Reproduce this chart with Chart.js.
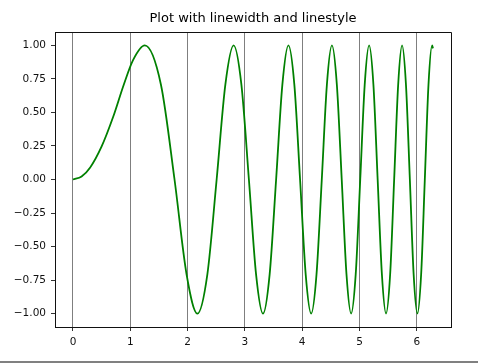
<!DOCTYPE html>
<html>
<head>
<meta charset="utf-8">
<script src="https://cdn.jsdelivr.net/npm/chart.js@4"></script>
<style>
  html, body { margin: 0; padding: 0; background: #fff; }
  #wrap { width: 478px; height: 363px; position: relative; }
</style>
</head>
<body>
<div id="wrap"><canvas id="lineChart" width="478" height="363"></canvas></div>
<script>
// Points (peaks, zero crossings and in between)
const xValues = [0, 0.15, 0.3, 0.5, 0.7, 0.886, 1.05, 1.253,
  1.535, 1.772, 1.982, 2.171, 2.345, 2.507, 2.659, 2.803,
  2.939, 3.070, 3.195, 3.316, 3.432, 3.545, 3.654, 3.760,
  3.863, 3.963, 4.061, 4.157, 4.250, 4.342, 4.431, 4.519,
  4.605, 4.690, 4.773, 4.854, 4.934, 5.013, 5.091, 5.168,
  5.243, 5.317, 5.391, 5.463, 5.535, 5.605, 5.675, 5.743,
  5.811, 5.879, 5.945, 6.011, 6.076, 6.140, 6.204, 6.267,
  6.283];
const yValues = [0, 0.022, 0.09, 0.247, 0.466, 0.707, 0.892, 1,
  0.707, 0, -0.707, -1, -0.707, 0, 0.707, 1,
  0.707, 0, -0.707, -1, -0.707, 0, 0.707, 1,
  0.707, 0, -0.707, -1, -0.707, 0, 0.707, 1,
  0.707, 0, -0.707, -1, -0.707, 0, 0.707, 1,
  0.707, 0, -0.707, -1, -0.707, 0, 0.707, 1,
  0.707, 0, -0.707, -1, -0.707, 0, 0.707, 1,
  0.978];

// Tick labels
const xTicks = [0, 1, 2, 3, 4, 5, 6];
const yTicks = [-1, -0.75, -0.5, -0.25, 0, 0.25, 0.5, 0.75, 1];

const points = xValues.map((x, i) => ({ x: x, y: yValues[i] }));

// top/right spines and the line along the bottom of the image
const framePlugin = {
  id: "frame",
  afterDraw(chart) {
    const { ctx, chartArea } = chart;
    ctx.save();
    ctx.strokeStyle = "#111";
    ctx.lineWidth = 1;
    ctx.beginPath();
    ctx.moveTo(Math.round(chartArea.left) + 0.5, Math.round(chartArea.top) + 0.5);
    ctx.lineTo(Math.round(chartArea.right) + 0.5, Math.round(chartArea.top) + 0.5);
    ctx.lineTo(Math.round(chartArea.right) + 0.5, Math.round(chartArea.bottom) + 0.5);
    ctx.stroke();
    ctx.fillStyle = "#808080";
    ctx.fillRect(0, chart.height - 2, chart.width, 2);
    ctx.restore();
  },
};

const ctx = document.getElementById("lineChart").getContext("2d");
const lineChart = new Chart(ctx, {
  type: "line",
  data: {
    datasets: [
      {
        data: points,
        borderColor: "#008000",
        borderWidth: 1.8,
        pointRadius: 0,
        fill: false,
        cubicInterpolationMode: "monotone",
      },
    ],
  },
  options: {
    responsive: false,
    animation: false,
    layout: { padding: { left: 0, right: 27, top: 0, bottom: 0 } },
    plugins: {
      legend: { display: false },
      tooltip: { enabled: false },
      title: {
        display: true,
        fullSize: false, // center over the axes, not the whole canvas
        text: "Plot with linewidth and linestyle",
        color: "#000",
        font: { family: "DejaVu Sans", size: 13, weight: "normal", lineHeight: 1.2 },
        padding: { top: 11, bottom: 5.4 },
      },
    },
    scales: {
      x: {
        type: "linear",
        min: -0.314,
        max: 6.597,
        afterFit: (scale) => { scale.height = 36; },
        afterBuildTicks: (scale) => { scale.ticks = xTicks.map((v) => ({ value: v })); },
        grid: {
          color: "rgba(0,0,0,0.5)",
          tickColor: "#333",
          tickLength: 4,
          lineWidth: 1,
        },
        border: { display: true, color: "#111", width: 1 },
        ticks: {
          color: "#111",
          padding: 5,
          maxRotation: 0,
          font: { family: "DejaVu Sans", size: 10.5 },
          callback: (v) => v.toString(),
        },
      },
      y: {
        min: -1.1,
        max: 1.1,
        afterFit: (scale) => { scale.width = 55; },
        afterBuildTicks: (scale) => { scale.ticks = yTicks.map((v) => ({ value: v })); },
        grid: {
          drawOnChartArea: false,
          tickColor: "#333",
          tickLength: 4,
        },
        border: { display: true, color: "#111", width: 1 },
        ticks: {
          color: "#111",
          padding: 5,
          font: { family: "DejaVu Sans", size: 10.5 },
          callback: (v) => (v < 0 ? "\u2212" + Math.abs(v).toFixed(2) : v.toFixed(2)),
        },
      },
    },
  },
  plugins: [framePlugin],
});
</script>
</body>
</html>
